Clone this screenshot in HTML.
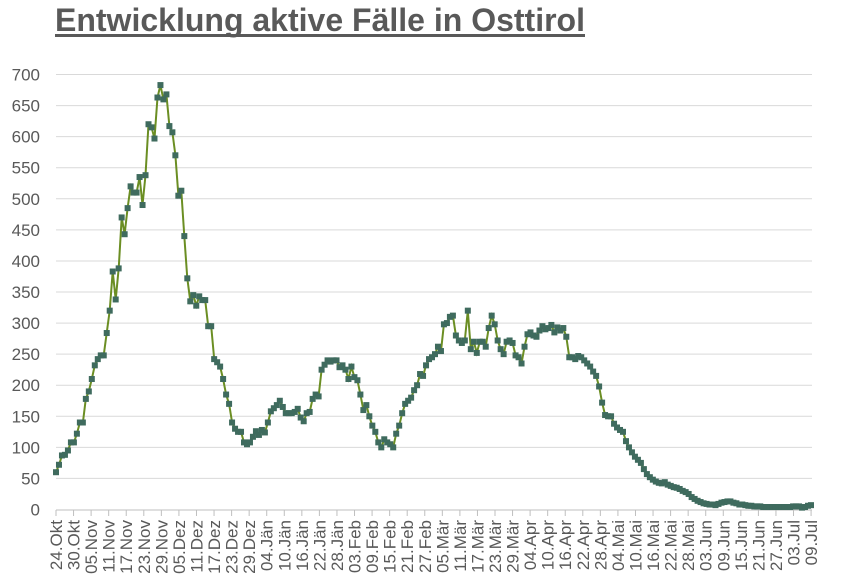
<!DOCTYPE html>
<html><head><meta charset="utf-8"><style>
body{margin:0;background:#fff;width:849px;height:583px;overflow:hidden}
svg{display:block}
</style></head><body>
<svg id="s" width="849" height="583" xmlns="http://www.w3.org/2000/svg" font-family="Liberation Sans, sans-serif">
<text x="55" y="31" font-size="32" font-weight="bold" fill="#595959" textLength="530" lengthAdjust="spacingAndGlyphs">Entwicklung aktive Fälle in Osttirol</text>
<rect x="55" y="34" width="530" height="3" fill="#595959"/>
</svg>
<script>
var s=document.getElementById('s'),ns='http://www.w3.org/2000/svg';
function el(t,a,txt){var e=document.createElementNS(ns,t);for(var k in a)e.setAttribute(k,a[k]);if(txt!=null)e.textContent=txt;s.appendChild(e);return e;}
function Y(v){return 509.5-v*0.6214;}
for(var v=0;v<=700;v+=50){
  if(v>0)el('line',{x1:56,x2:812,y1:Y(v),y2:Y(v),stroke:'#d9d9d9','stroke-width':1});
  el('text',{x:40,y:Y(v)+6,'font-size':17,fill:'#595959','text-anchor':'end'},String(v));
}
el('line',{x1:56,x2:812,y1:510,y2:510,stroke:'#bfbfbf','stroke-width':1});
var labels=['24.Okt','30.Okt','05.Nov','11.Nov','17.Nov','23.Nov','29.Nov','05.Dez','11.Dez','17.Dez','23.Dez','29.Dez','04.Jän','10.Jän','16.Jän','22.Jän','28.Jän','03.Feb','09.Feb','15.Feb','21.Feb','27.Feb','05.Mär','11.Mär','17.Mär','23.Mär','29.Mär','04.Apr','10.Apr','16.Apr','22.Apr','28.Apr','04.Mai','10.Mai','16.Mai','22.Mai','28.Mai','03.Jun','09.Jun','15.Jun','21.Jun','27.Jun','03.Jul','09.Jul'];
for(var i=0;i<labels.length;i++){
  var x=56+i*17.56;
  el('line',{x1:x,x2:x,y1:510,y2:516,stroke:'#bfbfbf','stroke-width':1});
  el('text',{x:0,y:0,'font-size':17,fill:'#595959','text-anchor':'end',transform:'translate('+(x+6)+',520) rotate(-90)'},labels[i]);
}
var d=[60,72,87,88,95,108,108,122,140,140,178,190,210,232,242,248,248,284,320,383,338,388,470,443,485,520,510,510,535,490,538,620,615,597,663,683,660,668,617,607,570,505,513,440,372,335,345,328,343,337,337,295,295,242,237,230,210,185,170,140,130,125,125,108,105,108,117,126,120,128,124,140,158,163,168,175,165,155,155,155,157,162,148,142,155,157,178,185,182,225,233,240,238,240,240,229,232,225,210,230,213,208,185,160,168,150,135,125,108,100,113,108,105,100,122,135,155,170,175,180,192,200,218,215,232,242,245,250,262,255,298,300,310,312,280,272,268,272,320,258,270,252,270,270,262,292,312,298,272,258,250,270,272,268,248,245,235,262,282,285,280,278,288,295,290,292,297,285,293,288,292,278,245,245,242,247,245,240,235,230,222,215,198,172,152,150,150,138,132,128,125,110,100,92,85,80,75,65,57,52,48,45,43,42,44,40,38,36,35,33,30,28,25,20,17,14,12,10,9,8,8,7,9,11,12,13,13,11,10,8,8,7,6,6,5,5,5,4,4,4,4,4,4,4,4,4,4,5,5,5,3,4,6,7];
var n=d.length,pts=[];
for(var i=0;i<n;i++){var x=56+i*(811-56)/(n-1);pts.push([x,Y(d[i])]);}
el('polyline',{points:pts.map(function(p){return p[0].toFixed(1)+','+p[1].toFixed(1)}).join(' '),fill:'none',stroke:'#6b8e23','stroke-width':2});
for(var i=0;i<n;i++)el('rect',{x:pts[i][0]-3,y:pts[i][1]-3,width:6,height:6,fill:'#3f6b5e'});
</script>
</body></html>
